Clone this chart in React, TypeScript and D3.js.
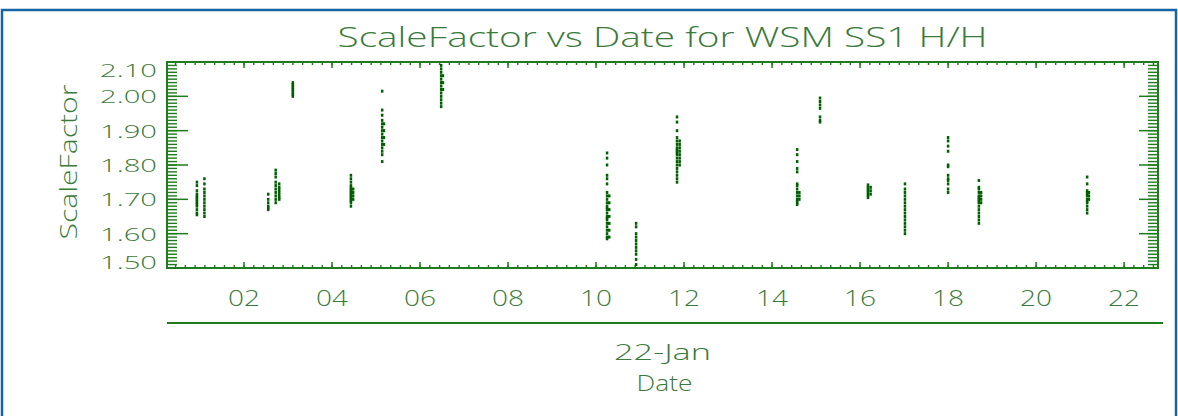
import React, { useEffect, useRef } from 'react';
import * as d3 from 'd3';

// hour-of-day ticks on 22-Jan
const xTickHours = [2, 4, 6, 8, 10, 12, 14, 16, 18, 20, 22];
const xTickLabels = ['02', '04', '06', '08', '10', '12', '14', '16', '18', '20', '22'];
const yTickValues = [2.1, 2.0, 1.9, 1.8, 1.7, 1.6, 1.5];
const yTickLabels = ['2.10', '2.00', '1.90', '1.80', '1.70', '1.60', '1.50'];

// each burst: time (hour) and the scale factors logged at that time
const burstHours = [
  0.93, 1.10, 2.55, 2.72, 2.80, 3.11, 4.43, 4.48, 5.14, 5.18, 6.48, 6.52,
  10.25, 10.30, 10.91, 11.84, 11.90, 14.57, 14.62, 15.09, 16.18, 16.24,
  17.02, 18.00, 18.70, 18.75, 21.16, 21.20,
];
const burstValues: number[][] = [
  [1.75, 1.74, 1.725, 1.715, 1.71, 1.705, 1.70, 1.695, 1.69, 1.685, 1.68, 1.67, 1.66, 1.655],
  [1.76, 1.745, 1.73, 1.72, 1.71, 1.70, 1.69, 1.68, 1.67, 1.66, 1.65],
  [1.715, 1.70, 1.69, 1.68, 1.675, 1.67],
  [1.785, 1.775, 1.765, 1.75, 1.74, 1.73, 1.72, 1.71, 1.70, 1.69],
  [1.745, 1.735, 1.728, 1.72, 1.712, 1.705, 1.70],
  [2.04, 2.035, 2.03, 2.025, 2.02, 2.015, 2.01, 2.005, 2.0],
  [1.77, 1.76, 1.75, 1.74, 1.735, 1.73, 1.725, 1.72, 1.715, 1.71, 1.705, 1.70, 1.695, 1.69, 1.68],
  [1.73, 1.72, 1.71, 1.70],
  [2.015, 1.96, 1.945, 1.93, 1.92, 1.91, 1.90, 1.89, 1.88, 1.87, 1.86, 1.85, 1.84, 1.83, 1.81],
  [1.92, 1.90, 1.88, 1.86],
  [2.09, 2.08, 2.07, 2.06, 2.05, 2.04, 2.03, 2.02, 2.01, 2.0, 1.99, 1.98, 1.97],
  [2.06, 2.04, 2.02],
  [1.835, 1.82, 1.80, 1.77, 1.76, 1.745, 1.72, 1.71, 1.70, 1.69, 1.68, 1.675, 1.67, 1.66, 1.65,
    1.645, 1.64, 1.63, 1.62, 1.61, 1.60, 1.59, 1.585],
  [1.71, 1.69, 1.67, 1.65, 1.63, 1.61, 1.59],
  [1.63, 1.62, 1.60, 1.59, 1.58, 1.57, 1.56, 1.55, 1.54, 1.525, 1.51],
  [1.94, 1.925, 1.90, 1.88, 1.87, 1.86, 1.85, 1.845, 1.84, 1.835, 1.83, 1.82, 1.81, 1.80, 1.79,
    1.78, 1.77, 1.76, 1.75],
  [1.87, 1.86, 1.85, 1.84, 1.83, 1.82, 1.81, 1.80],
  [1.845, 1.83, 1.81, 1.79, 1.78, 1.745, 1.74, 1.73, 1.72, 1.71, 1.70, 1.695, 1.69, 1.685],
  [1.72, 1.71, 1.70],
  [1.995, 1.985, 1.975, 1.965, 1.94, 1.93, 1.925],
  [1.742, 1.735, 1.73, 1.725, 1.72, 1.715, 1.71, 1.705],
  [1.735, 1.725, 1.715],
  [1.745, 1.73, 1.72, 1.71, 1.70, 1.69, 1.68, 1.67, 1.66, 1.65, 1.64, 1.63, 1.62, 1.61, 1.60],
  [1.88, 1.87, 1.855, 1.84, 1.80, 1.795, 1.77, 1.76, 1.755, 1.745, 1.73, 1.72],
  [1.755, 1.735, 1.73, 1.72, 1.71, 1.705, 1.70, 1.695, 1.69, 1.68, 1.67, 1.66, 1.65, 1.64, 1.63],
  [1.72, 1.71, 1.70, 1.69],
  [1.765, 1.745, 1.725, 1.72, 1.715, 1.71, 1.70, 1.695, 1.69, 1.68, 1.67, 1.66],
  [1.72, 1.71, 1.70],
];

const DATA_GREEN = '#006000';
const AXIS_GREEN = '#1e7b1e';
const TEXT_GREEN = '#3a7a3a';
const FRAME_BLUE = '#1565a6';
const FONT = '"Open Sans", "DejaVu Sans", sans-serif';

export default function App() {
  const svgRef = useRef<SVGSVGElement>(null);

  useEffect(() => {
    if (!svgRef.current) return;
    const svg = d3.select(svgRef.current);
    svg.selectAll('*').remove();

    const W = 1178;
    const H = 416;
    const left = 167, right = 1158, top = 62, bottom = 268;

    const x = d3.scaleLinear().domain([0.25, 22.77]).range([left, right]);
    const y = d3.scaleLinear().domain([1.5, 2.1]).range([bottom, top]);

    svg.append('rect').attr('width', W).attr('height', H).attr('fill', '#fff');

    // blue page frame
    svg.append('rect')
      .attr('x', 2).attr('y', 10)
      .attr('width', W - 4).attr('height', H + 20)
      .attr('fill', 'none')
      .attr('stroke', FRAME_BLUE)
      .attr('stroke-width', 2.5);

    const label = (sel: d3.Selection<SVGTextElement, any, any, any>, size: number, len: number) =>
      sel.attr('font-family', FONT)
        .attr('font-weight', 300)
        .attr('font-size', size)
        .attr('fill', TEXT_GREEN)
        .attr('textLength', len)
        .attr('lengthAdjust', 'spacingAndGlyphs');

    // title
    label(svg.append('text')
      .attr('x', (left + right) / 2)
      .attr('y', 47)
      .attr('text-anchor', 'middle'), 27, 650)
      .text('ScaleFactor vs Date for WSM SS1 H/H');

    const g = svg.append('g');

    // minor y ticks (left and right)
    const yMinor = d3.range(150, 211).map(v => v / 100);
    g.selectAll('.ymin-l').data(yMinor).enter().append('line')
      .attr('x1', left).attr('x2', left + 10)
      .attr('y1', d => y(d)).attr('y2', d => y(d))
      .attr('stroke', AXIS_GREEN).attr('stroke-width', 1.4);
    g.selectAll('.ymin-r').data(yMinor).enter().append('line')
      .attr('x1', right).attr('x2', right - 10)
      .attr('y1', d => y(d)).attr('y2', d => y(d))
      .attr('stroke', AXIS_GREEN).attr('stroke-width', 1.4);

    // major y ticks
    g.selectAll('.ymaj-l').data(yTickValues).enter().append('line')
      .attr('x1', left).attr('x2', left + 21)
      .attr('y1', d => y(d)).attr('y2', d => y(d))
      .attr('stroke', AXIS_GREEN).attr('stroke-width', 1.5);
    g.selectAll('.ymaj-r').data(yTickValues).enter().append('line')
      .attr('x1', right).attr('x2', right - 19)
      .attr('y1', d => y(d)).attr('y2', d => y(d))
      .attr('stroke', AXIS_GREEN).attr('stroke-width', 1.5);

    // y tick labels (end labels nudged inside like the original)
    label(g.selectAll('.ylab').data(yTickValues).enter().append('text')
      .attr('x', 157)
      .attr('y', (d, i) => y(d) + (i === 0 ? 8 : i === yTickValues.length - 1 ? -6 : 0))
      .attr('dy', '0.36em')
      .attr('text-anchor', 'end') as any, 19, 57)
      .text((d: number, i: number) => yTickLabels[i]);

    // x ticks (top and bottom)
    const xMinor = d3.range(0, 104).map(k => (k * 2) / 9).filter(h => h > 0.25 && h < 22.77);
    g.selectAll('.xmin-b').data(xMinor).enter().append('line')
      .attr('x1', d => x(d)).attr('x2', d => x(d))
      .attr('y1', bottom).attr('y2', bottom - 3)
      .attr('stroke', AXIS_GREEN).attr('stroke-width', 1.4);
    g.selectAll('.xmin-t').data(xMinor).enter().append('line')
      .attr('x1', d => x(d)).attr('x2', d => x(d))
      .attr('y1', top).attr('y2', top + 3)
      .attr('stroke', AXIS_GREEN).attr('stroke-width', 1.4);
    g.selectAll('.xmaj-b').data(xTickHours).enter().append('line')
      .attr('x1', d => x(d)).attr('x2', d => x(d))
      .attr('y1', bottom).attr('y2', bottom - 6)
      .attr('stroke', AXIS_GREEN).attr('stroke-width', 1.5);
    g.selectAll('.xmaj-t').data(xTickHours).enter().append('line')
      .attr('x1', d => x(d)).attr('x2', d => x(d))
      .attr('y1', top).attr('y2', top + 6)
      .attr('stroke', AXIS_GREEN).attr('stroke-width', 1.5);

    // plot frame
    g.append('rect')
      .attr('x', left).attr('y', top)
      .attr('width', right - left).attr('height', bottom - top)
      .attr('fill', 'none')
      .attr('stroke', AXIS_GREEN)
      .attr('stroke-width', 2);

    // x tick labels
    label(g.selectAll('.xlab').data(xTickHours).enter().append('text')
      .attr('x', d => x(d))
      .attr('y', 298)
      .attr('dy', '0.36em')
      .attr('text-anchor', 'middle') as any, 22, 32)
      .text((d: number, i: number) => xTickLabels[i]);

    // second-level date axis line
    g.append('line')
      .attr('x1', left).attr('x2', right + 5)
      .attr('y1', 323).attr('y2', 323)
      .attr('stroke', AXIS_GREEN)
      .attr('stroke-width', 2);

    label(g.append('text')
      .attr('x', (left + right) / 2)
      .attr('y', 352)
      .attr('dy', '0.36em')
      .attr('text-anchor', 'middle'), 22, 97)
      .text('22-Jan');

    label(g.append('text')
      .attr('x', (left + right) / 2 + 2)
      .attr('y', 383)
      .attr('dy', '0.36em')
      .attr('text-anchor', 'middle'), 22, 56)
      .text('Date');

    // y axis title
    label(g.append('text')
      .attr('transform', `translate(69,${(top + bottom) / 2 - 3}) rotate(-90)`)
      .attr('dy', '0.36em')
      .attr('text-anchor', 'middle'), 23, 155)
      .text('ScaleFactor');

    // data points
    const points = burstHours.flatMap((h, i) => burstValues[i].map(v => ({ h, v })));
    g.selectAll('.pt').data(points).enter().append('rect')
      .attr('x', d => x(d.h) - 1.25)
      .attr('y', d => y(d.v) - 1.5)
      .attr('width', 2.5)
      .attr('height', 3)
      .attr('fill', DATA_GREEN);
  }, []);

  return (
    <svg
      ref={svgRef}
      width={1178}
      height={416}
      style={{ position: 'absolute', left: 0, top: 0, display: 'block' }}
    />
  );
}
